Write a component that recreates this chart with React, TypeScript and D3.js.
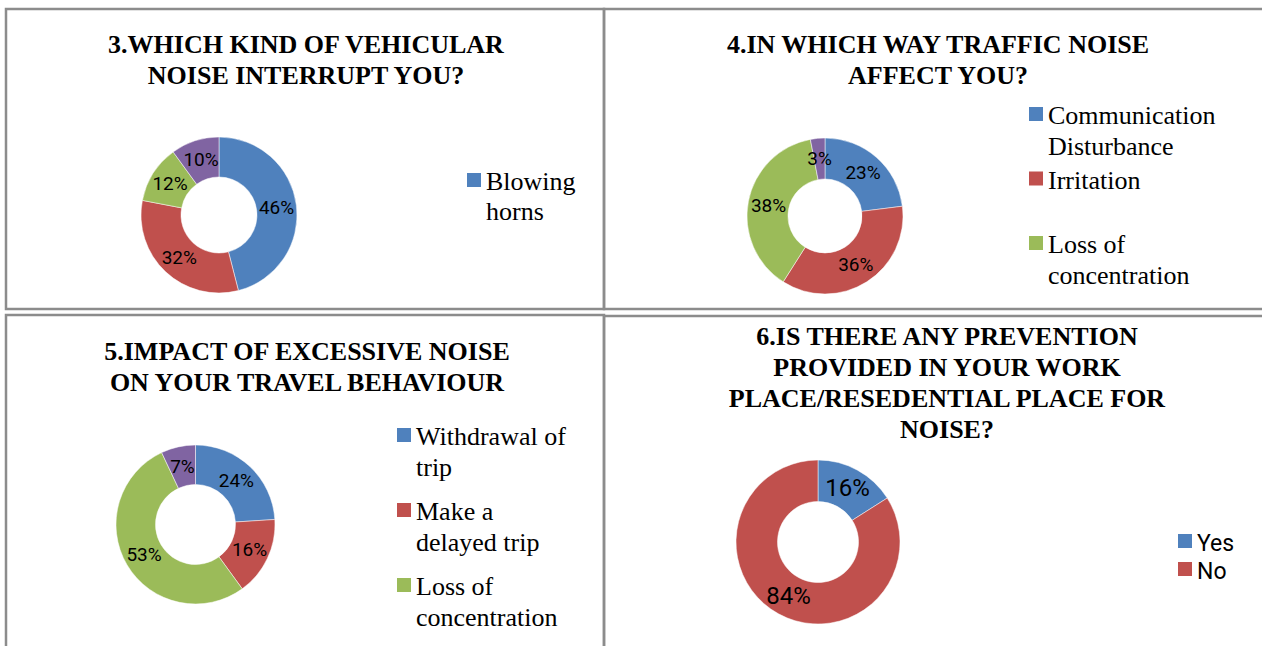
import React from 'react'
import * as d3 from 'd3'

// slice values in percent, clockwise from 12 o'clock
const q3Values = [46, 32, 12, 10]
const q4Values = [23, 36, 38, 3]
const q5Values = [24, 16, 53, 7]
const q6Values = [16, 84]

// legend entries, already broken into the lines the picture shows
const q3Legend = [['Blowing', 'horns']]
const q4Legend = [['Communication', 'Disturbance'], ['Irritation'], ['Loss of', 'concentration']]
const q5Legend = [['Withdrawal of', 'trip'], ['Make a', 'delayed trip'], ['Loss of', 'concentration']]
const q6Legend = [['Yes'], ['No']]

const q3Title = ['3.WHICH KIND OF VEHICULAR', 'NOISE INTERRUPT YOU?']
const q4Title = ['4.IN WHICH WAY TRAFFIC NOISE', 'AFFECT YOU?']
const q5Title = ['5.IMPACT OF EXCESSIVE NOISE', 'ON YOUR TRAVEL BEHAVIOUR']
const q6Title = ['6.IS THERE ANY PREVENTION', 'PROVIDED IN YOUR WORK', 'PLACE/RESEDENTIAL PLACE FOR', 'NOISE?']

const palette = ['#4f81bd', '#c0504d', '#9bbb59', '#8064a2']

const serif = '"Liberation Serif", "Times New Roman", serif'
const sans = 'Roboto, "Noto Sans", sans-serif'

type PanelProps = {
    values: number[]
    legend: string[][]
    title: string[]
    cx: number
    cy: number
    outer: number
    inner: number
    titleX: number
    titleY: number
    legendX: number
    legendY: number
    legendStep: number
    legendFont: string
    legendSize: number
    lineH: number
    labelSize: number
}

const Panel = (props: PanelProps) => {
    const { values, legend, title, cx, cy, outer, inner, titleX, titleY,
        legendX, legendY, legendStep, legendFont, legendSize, lineH, labelSize } = props

    const pie = d3.pie<number>().sort(null).value(d => d)
    const arcs = pie(values)
    const arc = d3.arc<d3.PieArcDatum<number>>().innerRadius(inner).outerRadius(outer)
    const color = d3.scaleOrdinal<number, string>().domain(d3.range(palette.length)).range(palette)
    const entryY = d3.scaleLinear().domain([0, 1]).range([legendY, legendY + legendStep])

    return (
        <g>
            {title.map((t, i) => (
                <text key={i} x={titleX} y={titleY + i * 31} textAnchor="middle"
                    fontFamily={serif} fontWeight="bold" fontSize={26} fill="#000">{t}</text>
            ))}
            <g transform={`translate(${cx},${cy})`}>
                {arcs.map((a, i) => (
                    <path key={i} d={arc(a) || ''} fill={color(i)} stroke="#fff" strokeWidth={0.5} />
                ))}
                {arcs.map((a, i) => {
                    const [lx, ly] = arc.centroid(a)
                    return (
                        <text key={i} x={lx} y={ly} textAnchor="middle" dominantBaseline="central"
                            fontFamily={sans} fontSize={labelSize} fill="#000">{values[i]}%</text>
                    )
                })}
            </g>
            {legend.map((lines, i) => {
                const by = entryY(i)
                return (
                    <g key={i}>
                        <rect x={legendX} y={by - 17} width={14} height={14} fill={color(i)} />
                        {lines.map((l, j) => (
                            <text key={j} x={legendX + 19} y={by + j * lineH}
                                fontFamily={legendFont} fontSize={legendSize} fill="#000">{l}</text>
                        ))}
                    </g>
                )
            })}
        </g>
    )
}

const App = () => {
    const line = '#8c8c8c'
    return (
        <svg width={1262} height={646} style={{ position: 'absolute', left: 0, top: 0, background: '#fff' }}>
            <rect x={0} y={0} width={1262} height={646} fill="#fff" />
            {/* panel frames */}
            <g fill="none" stroke={line} strokeWidth={2.5}>
                <rect x={6} y={9} width={598} height={300} />
                <rect x={604} y={9} width={700} height={300} />
                <rect x={6} y={315} width={598} height={400} />
                <rect x={604} y={316} width={700} height={400} />
            </g>

            <Panel values={q3Values} legend={q3Legend} title={q3Title}
                cx={219} cy={215} outer={78} inner={38}
                titleX={306} titleY={53}
                legendX={467} legendY={190} legendStep={60}
                legendFont={serif} legendSize={26} lineH={30} labelSize={19} />

            <Panel values={q4Values} legend={q4Legend} title={q4Title}
                cx={825} cy={216} outer={78} inner={37}
                titleX={938} titleY={53}
                legendX={1029} legendY={124} legendStep={64.5}
                legendFont={serif} legendSize={26} lineH={31} labelSize={19} />

            <Panel values={q5Values} legend={q5Legend} title={q5Title}
                cx={195.5} cy={524.5} outer={79.5} inner={40}
                titleX={307} titleY={360}
                legendX={397} legendY={445} legendStep={75}
                legendFont={serif} legendSize={26} lineH={31} labelSize={19} />

            <Panel values={q6Values} legend={q6Legend} title={q6Title}
                cx={818} cy={542} outer={82} inner={40.5}
                titleX={947} titleY={345}
                legendX={1178} legendY={551} legendStep={28}
                legendFont={sans} legendSize={23} lineH={28} labelSize={24} />
        </svg>
    )
}

export default App
